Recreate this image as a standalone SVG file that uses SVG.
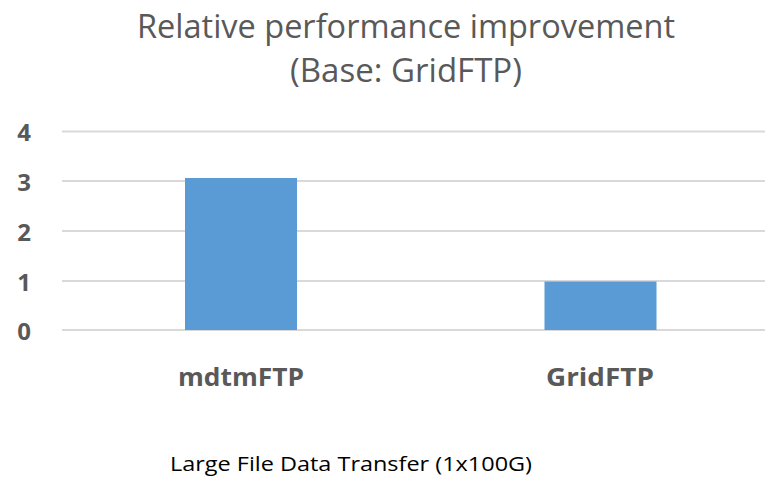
<svg xmlns="http://www.w3.org/2000/svg" width="765" height="478" viewBox="0 0 765 478">
<style>
.title{font-family:"Open Sans","Noto Sans",sans-serif;font-size:32px;fill:#595959;text-anchor:middle}
.tick{font-family:"Open Sans","Noto Sans",sans-serif;font-size:24px;font-weight:bold;fill:#595959;text-anchor:middle}
.cat{font-family:"Open Sans","Noto Sans",sans-serif;font-size:25px;font-weight:bold;fill:#595959;text-anchor:middle}
.foot{font-family:"Open Sans","Noto Sans",sans-serif;font-size:20px;fill:#000;text-anchor:middle}
.grid{stroke:#d9d9d9;stroke-width:2}
.bar{fill:#5b9bd5}
</style>
<rect width="765" height="478" fill="#fff"/>
<g id="title">
<text class="title" x="406" y="38" textLength="538" lengthAdjust="spacingAndGlyphs">Relative performance improvement</text>
<text class="title" x="406" y="82" textLength="232" lengthAdjust="spacingAndGlyphs">(Base: GridFTP)</text>
</g>
<g id="gridlines">
<line class="grid" x1="62" y1="131.5" x2="765" y2="131.5"/>
<line class="grid" x1="62" y1="181" x2="765" y2="181"/>
<line class="grid" x1="62" y1="231" x2="765" y2="231"/>
<line class="grid" x1="62" y1="281" x2="765" y2="281"/>
<line class="grid" x1="62" y1="330" x2="765" y2="330"/>
</g>
<g id="axis-labels">
<text class="tick" x="24" y="141">4</text>
<text class="tick" x="24" y="191">3</text>
<text class="tick" x="24" y="241">2</text>
<text class="tick" x="24" y="291">1</text>
<text class="tick" x="24" y="340">0</text>
</g>
<g id="bar-mdtmFTP">
<rect class="bar" x="185" y="178" width="112" height="152"/>
<text class="cat" x="241" y="386" textLength="126" lengthAdjust="spacingAndGlyphs">mdtmFTP</text>
</g>
<g id="bar-GridFTP">
<rect class="bar" x="544.5" y="281.5" width="112" height="48.5"/>
<text class="cat" x="600" y="386" textLength="108" lengthAdjust="spacingAndGlyphs">GridFTP</text>
</g>
<g id="connectors"/>
<g id="footer">
<text class="foot" x="351" y="471" textLength="362" lengthAdjust="spacingAndGlyphs">Large File Data Transfer (1x100G)</text>
</g>
</svg>
